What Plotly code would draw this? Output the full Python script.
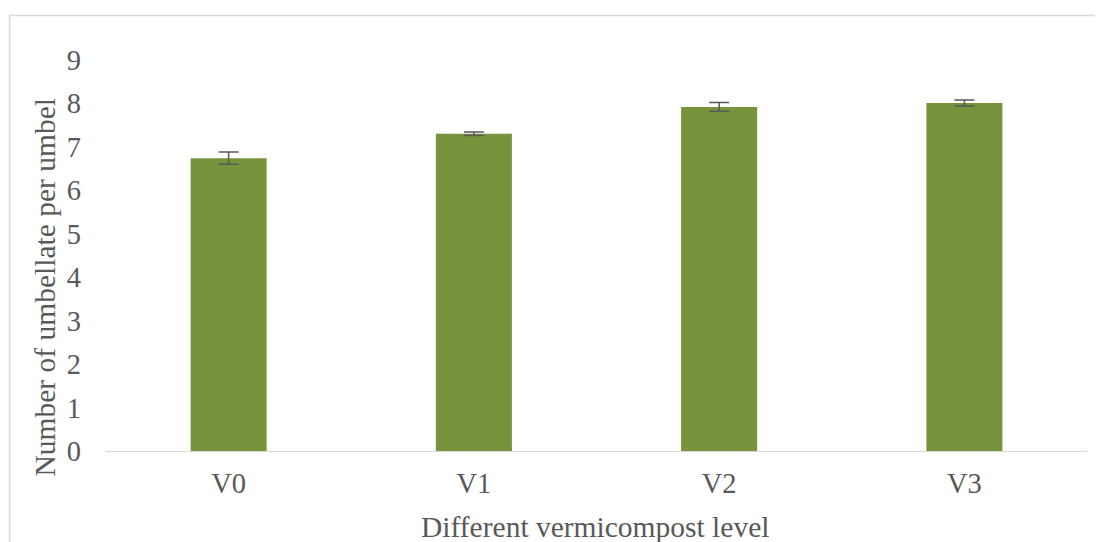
import plotly.graph_objects as go

categories = ["V0", "V1", "V2", "V3"]
values = [6.74, 7.30, 7.92, 8.01]
errors = [0.14, 0.04, 0.10, 0.07]
y_ticks = list(range(0, 10))
x_title = "Different vermicompost level"
y_title = "Number of umbellate per umbel"

# page body has an 8px margin; target positions are in window pixels
OFF = 8
L, R, T, B = 105.5 - OFF, 1087 - OFF, 60 - OFF, 451 - OFF
W, H = 1103 - OFF, 542 - OFF

fig = go.Figure(go.Bar(
    x=categories, y=values, width=0.31,
    marker=dict(color="#77933C", line=dict(width=0)),
    error_y=dict(type="data", array=errors, visible=True, color="#595959", thickness=1.5, width=10),
))

font = "Liberation Serif, Times New Roman, serif"
FS = 28.5
FT = 29.5
pw, ph = R - L, B - T
def px2x(p): return (p - OFF - L) / pw
def py2y(p): return (B - (p - OFF)) / ph

fig.update_layout(
    width=W, height=H,
    margin=dict(l=L, r=W - R, t=T, b=H - B, autoexpand=False),
    paper_bgcolor="white", plot_bgcolor="white",
    showlegend=False,
    font=dict(family=font, color="#595959", size=FS),
    xaxis=dict(
        showline=True, linecolor="#D9D9D9", linewidth=1, ticks="",
        tickfont=dict(size=FS, color="#595959"), ticklabelstandoff=7,
        showgrid=False, zeroline=False,
    ),
    yaxis=dict(
        range=[0, 9], tickvals=y_ticks, showgrid=False, zeroline=False, showline=False,
        tickfont=dict(size=FS, color="#595959"), ticklabelstandoff=24,
    ),
    annotations=[
        dict(text=x_title, xref="paper", yref="paper", x=px2x(595), y=py2y(527),
             xanchor="center", yanchor="middle", showarrow=False,
             font=dict(size=FT, color="#595959", family=font)),
        dict(text=y_title, xref="paper", yref="paper", x=px2x(44), y=py2y(288),
             xanchor="center", yanchor="middle", showarrow=False, textangle=-90,
             font=dict(size=FT, color="#595959", family=font)),
    ],
    shapes=[dict(type="rect", xref="paper", yref="paper",
                 x0=px2x(9), x1=px2x(1115), y0=py2y(560), y1=py2y(15.5),
                 line=dict(color="#D9D9D9", width=1.5), fillcolor="rgba(0,0,0,0)", layer="below")],
)

fig.write_html("out.html")
